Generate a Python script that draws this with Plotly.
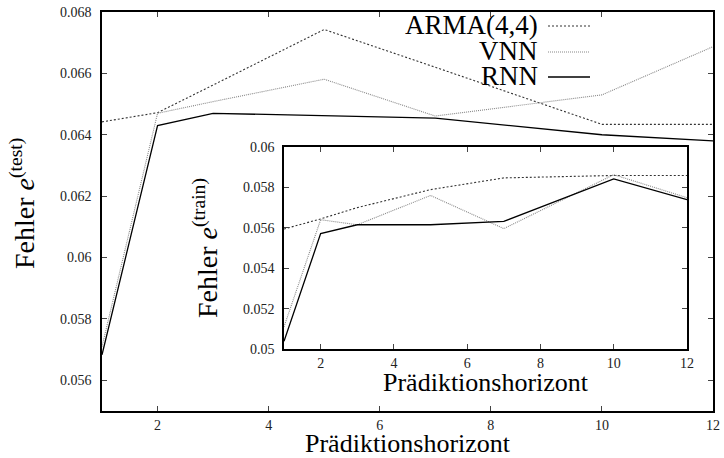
import plotly.graph_objects as go

# ---------------- data ----------------
horizon = [1, 2, 3, 5, 7, 10, 12]

test_arma = [0.06442, 0.06472, 0.06562, 0.06743, 0.06620, 0.06434, 0.06434]
test_vnn = [0.05710, 0.06470, 0.06508, 0.06581, 0.06461, 0.06530, 0.06687]
test_rnn = [0.05683, 0.06430, 0.06470, 0.06462, 0.06454, 0.06400, 0.06380]

train_arma = [0.05594, 0.05644, 0.05700, 0.05789, 0.05847, 0.05859, 0.05859]
train_vnn = [0.05110, 0.05640, 0.05615, 0.05760, 0.05596, 0.05863, 0.05749]
train_rnn = [0.05038, 0.05571, 0.05615, 0.05615, 0.05632, 0.05842, 0.05739]

series_names = ["ARMA(4,4)", "VNN", "RNN"]

x_ticks = [2, 4, 6, 8, 10, 12]
x_ticklabels = ["2", "4", "6", "8", "10", "12"]
test_ticks = [0.056, 0.058, 0.060, 0.062, 0.064, 0.066, 0.068]
test_ticklabels = ["0.056", "0.058", "0.06", "0.062", "0.064", "0.066", "0.068"]
train_ticks = [0.050, 0.052, 0.054, 0.056, 0.058, 0.060]
train_ticklabels = ["0.05", "0.052", "0.054", "0.056", "0.058", "0.06"]

# ---------------- layout helpers ----------------
W, H = 724, 458
L, R, T, B = 102, 11, 12, 47
PW, PH = W - L - R, H - T - B


def px(xp):
    return (xp - L) / PW


def py(yp):
    return (H - B - yp) / PH


TXT = "Liberation Serif"
TICKF = dict(family="Liberation Serif", size=14, color="#222")

styles = [
    dict(color="#333333", width=1.1, dash="2px,2px"),
    dict(color="#888888", width=1.1, dash="1px,1px"),
    dict(color="#000000", width=1.3, dash="solid"),
]

fig = go.Figure()
for name, ys, st in zip(series_names, [test_arma, test_vnn, test_rnn], styles):
    fig.add_trace(go.Scatter(x=horizon, y=ys, mode="lines", name=name,
                             line=st, xaxis="x", yaxis="y", showlegend=False))
for name, ys, st in zip(series_names, [train_arma, train_vnn, train_rnn], styles):
    fig.add_trace(go.Scatter(x=horizon, y=ys, mode="lines", name=name,
                             line=st, xaxis="x2", yaxis="y2", showlegend=False))

axis_common = dict(showline=True, mirror="ticks", linecolor="black", linewidth=1.5,
                   ticks="inside", ticklen=5, tickwidth=1, tickcolor="#444",
                   showgrid=False, zeroline=False, tickfont=TICKF, automargin=False)

fig.update_layout(
    width=W, height=H,
    margin=dict(l=L, r=R, t=T, b=B, autoexpand=False),
    paper_bgcolor="white", plot_bgcolor="white",
    xaxis=dict(domain=[0, 1], range=[1, 12], tickvals=x_ticks, ticktext=x_ticklabels,
               anchor="y", ticklabelstandoff=0, **axis_common),
    yaxis=dict(domain=[0, 1], range=[0.055, 0.068], tickvals=test_ticks,
               ticktext=test_ticklabels, anchor="x", ticklabelstandoff=6, **axis_common),
    xaxis2=dict(domain=[px(284), px(687)], range=[1, 12], tickvals=x_ticks,
                ticktext=x_ticklabels, anchor="y2", ticklabelstandoff=0, **axis_common),
    yaxis2=dict(domain=[py(349), py(147)], range=[0.05, 0.06], tickvals=train_ticks,
                ticktext=train_ticklabels, anchor="x2", ticklabelstandoff=5, **axis_common),
)

# inset white background
fig.add_shape(type="rect", xref="paper", yref="paper", x0=px(284), x1=px(687),
              y0=py(349), y1=py(147), fillcolor="white", line=dict(width=0), layer="below")

ann = []
# axis titles
ann.append(dict(text="Prädiktionshorizont", x=px(408), y=py(458.5), xref="paper", yref="paper",
                showarrow=False, xanchor="center", yanchor="bottom", borderpad=0,
                font=dict(family=TXT, size=26, color="black")))
ann.append(dict(text="Prädiktionshorizont", x=px(485.5), y=py(382), xref="paper", yref="paper",
                showarrow=False, xanchor="center", yanchor="middle", borderpad=0,
                font=dict(family=TXT, size=26, color="black")))
ann.append(dict(text="Fehler <i>e</i><sup>(test)</sup>", x=px(22), y=py(204), xref="paper",
                yref="paper", showarrow=False, textangle=-90, xanchor="center",
                yanchor="middle", font=dict(family=TXT, size=28, color="black")))
ann.append(dict(text="Fehler <i>e</i><sup>(train)</sup>", x=px(205), y=py(248), xref="paper",
                yref="paper", showarrow=False, textangle=-90, xanchor="center",
                yanchor="middle", font=dict(family=TXT, size=28, color="black")))

# legend
leg_y = [25, 51, 76]
for name, yy, st in zip(series_names, leg_y, styles):
    ann.append(dict(text=name, x=px(539), y=py(yy), xref="paper", yref="paper",
                    showarrow=False, xanchor="right", yanchor="middle", borderpad=0,
                    font=dict(family=TXT, size=27, color="black")))
    fig.add_shape(type="line", xref="paper", yref="paper", x0=px(548), x1=px(590),
                  y0=py(yy + 1), y1=py(yy + 1), line=st)

fig.update_layout(annotations=ann)
fig.write_html("out.html", config={"displayModeBar": False},
               post_script="document.body.style.margin='0px';")
